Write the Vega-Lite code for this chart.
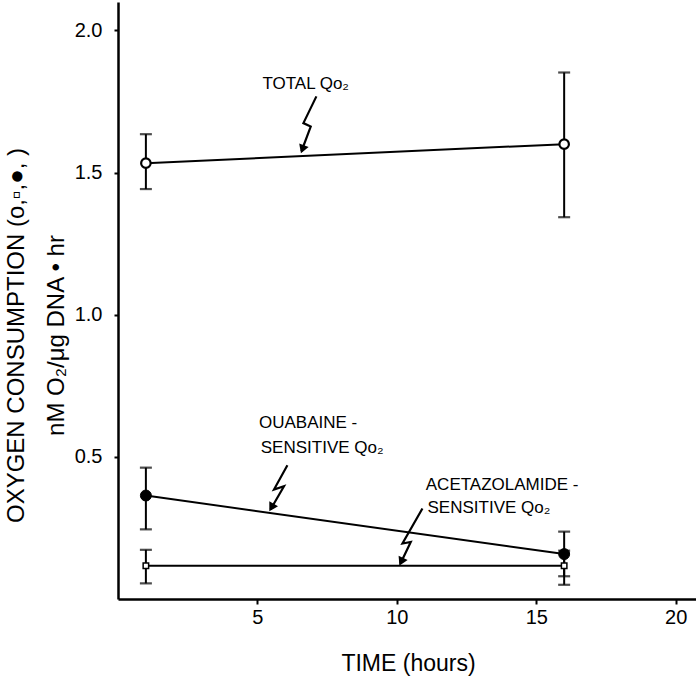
{
  "$schema": "https://vega.github.io/schema/vega-lite/v6.json",
  "width": 580,
  "height": 597,
  "autosize": "none",
  "padding": {"left": 118, "top": 2, "right": 0, "bottom": 80},
  "background": "white",
  "config": {
    "view": {"stroke": null},
    "axis": {
      "grid": false,
      "domainColor": "black",
      "domainWidth": 2.5,
      "tickColor": "black",
      "tickWidth": 2,
      "tickSize": 5,
      "labelColor": "black",
      "titleColor": "black",
      "labelFont": "Liberation Sans Narrow, Liberation Sans",
      "titleFont": "Liberation Sans Narrow, Liberation Sans",
      "labelFontSize": 20,
      "titleFontWeight": "normal"
    }
  },
  "datasets": {
    "pts": [
      {"series": "Total", "t": 1, "y": 1.533, "lo": 1.442, "hi": 1.635},
      {"series": "Total", "t": 16, "y": 1.6, "lo": 1.343, "hi": 1.852},
      {"series": "Ouabaine", "t": 1, "y": 0.364, "lo": 0.245, "hi": 0.462},
      {"series": "Ouabaine", "t": 16, "y": 0.158, "lo": 0.08, "hi": 0.237},
      {"series": "Acetazolamide", "t": 1, "y": 0.117, "lo": 0.055, "hi": 0.173},
      {"series": "Acetazolamide", "t": 16, "y": 0.117, "lo": 0.05, "hi": 0.17}
    ],
    "bolts": [
      {"bolt": "Total", "o": 1, "x": 7.115, "y": 1.768},
      {"bolt": "Total", "o": 2, "x": 6.649, "y": 1.674},
      {"bolt": "Total", "o": 3, "x": 6.911, "y": 1.662},
      {"bolt": "Total", "o": 4, "x": 6.58, "y": 1.575},
      {"bolt": "Ouabaine", "o": 1, "x": 6.075, "y": 0.4708},
      {"bolt": "Ouabaine", "o": 2, "x": 5.594, "y": 0.3852},
      {"bolt": "Ouabaine", "o": 3, "x": 5.953, "y": 0.3968},
      {"bolt": "Ouabaine", "o": 4, "x": 5.47, "y": 0.315},
      {"bolt": "Acetazolamide", "o": 1, "x": 10.918, "y": 0.3183},
      {"bolt": "Acetazolamide", "o": 2, "x": 10.201, "y": 0.1951},
      {"bolt": "Acetazolamide", "o": 3, "x": 10.499, "y": 0.2007},
      {"bolt": "Acetazolamide", "o": 4, "x": 10.13, "y": 0.125}
    ],
    "heads": [
      {"bolt": "Total", "x": 6.614, "y": 1.582, "ang": 200},
      {"bolt": "Ouabaine", "x": 5.505, "y": 0.3215, "ang": 210},
      {"bolt": "Acetazolamide", "x": 10.157, "y": 0.131, "ang": 206}
    ],
    "labels": [
      {"x": 5.178, "y": 1.794, "text": "TOTAL  Qo₂"},
      {"x": 5.056, "y": 0.6, "text": "OUABAINE -"},
      {"x": 5.12, "y": 0.512, "text": "SENSITIVE Qo₂"},
      {"x": 11.037, "y": 0.383, "text": "ACETAZOLAMIDE -"},
      {"x": 11.1, "y": 0.303, "text": "SENSITIVE Qo₂"}
    ]
  },
  "layer": [
    {
      "data": {"name": "pts"},
      "mark": {"type": "rule", "color": "black", "strokeWidth": 2},
      "encoding": {
        "x": {
          "field": "t", "type": "quantitative",
          "scale": {"domain": [0, 20.8], "nice": false, "zero": false},
          "axis": {
            "values": [5, 10, 15, 20],
            "title": "TIME (hours)",
            "titleFontSize": 23,
            "titleBaseline": "alphabetic",
            "titleY": 71,
            "labelPadding": 3
          }
        },
        "y": {
          "field": "lo", "type": "quantitative",
          "scale": {"domain": [0, 2.1], "nice": false, "zero": false},
          "axis": {
            "values": [0.5, 1, 1.5, 2],
            "format": ".1f",
            "title": ["OXYGEN  CONSUMPTION (o,▫,●, )", "nM O₂/μg  DNA • hr"],
            "titleFontSize": 24,
            "titleLineHeight": 40,
            "titleAngle": -90,
            "titleAlign": "center",
            "titleBaseline": "middle",
            "titleX": -102,
            "titleY": 333,
            "tickSize": 4,
            "labelPadding": 12
          }
        },
        "y2": {"field": "hi"}
      }
    },
    {
      "data": {"name": "pts"},
      "mark": {"type": "tick", "orient": "horizontal", "color": "black", "thickness": 2.2, "size": 12},
      "encoding": {
        "x": {"field": "t", "type": "quantitative"},
        "y": {"field": "lo", "type": "quantitative"}
      }
    },
    {
      "data": {"name": "pts"},
      "mark": {"type": "tick", "orient": "horizontal", "color": "black", "thickness": 2.2, "size": 12},
      "encoding": {
        "x": {"field": "t", "type": "quantitative"},
        "y": {"field": "hi", "type": "quantitative"}
      }
    },
    {
      "data": {"name": "pts"},
      "mark": {"type": "line", "color": "black", "strokeWidth": 2},
      "encoding": {
        "x": {"field": "t", "type": "quantitative"},
        "y": {"field": "y", "type": "quantitative"},
        "detail": {"field": "series"}
      }
    },
    {
      "data": {"name": "pts"},
      "transform": [{"filter": "datum.series === 'Total'"}],
      "mark": {"type": "point", "shape": "circle", "stroke": "black", "fill": "white", "strokeWidth": 2.2, "size": 90, "opacity": 1},
      "encoding": {
        "x": {"field": "t", "type": "quantitative"},
        "y": {"field": "y", "type": "quantitative"}
      }
    },
    {
      "data": {"name": "pts"},
      "transform": [{"filter": "datum.series === 'Ouabaine'"}],
      "mark": {"type": "point", "shape": "circle", "stroke": "black", "fill": "black", "strokeWidth": 1, "size": 120, "opacity": 1},
      "encoding": {
        "x": {"field": "t", "type": "quantitative"},
        "y": {"field": "y", "type": "quantitative"}
      }
    },
    {
      "data": {"name": "pts"},
      "transform": [{"filter": "datum.series === 'Acetazolamide'"}],
      "mark": {"type": "point", "shape": "square", "stroke": "black", "fill": "white", "strokeWidth": 1.5, "size": 30, "opacity": 1},
      "encoding": {
        "x": {"field": "t", "type": "quantitative"},
        "y": {"field": "y", "type": "quantitative"}
      }
    },
    {
      "data": {"name": "bolts"},
      "mark": {"type": "line", "color": "black", "strokeWidth": 2.2},
      "encoding": {
        "x": {"field": "x", "type": "quantitative"},
        "y": {"field": "y", "type": "quantitative"},
        "detail": {"field": "bolt"},
        "order": {"field": "o"}
      }
    },
    {
      "data": {"name": "heads"},
      "mark": {"type": "point", "shape": "triangle-up", "filled": true, "color": "black", "size": 100, "opacity": 1},
      "encoding": {
        "x": {"field": "x", "type": "quantitative"},
        "y": {"field": "y", "type": "quantitative"},
        "angle": {"field": "ang", "type": "quantitative", "scale": null}
      }
    },
    {
      "data": {"name": "labels"},
      "mark": {"type": "text", "align": "left", "baseline": "alphabetic", "font": "Liberation Sans", "fontSize": 17, "color": "black"},
      "encoding": {
        "x": {"field": "x", "type": "quantitative"},
        "y": {"field": "y", "type": "quantitative"},
        "text": {"field": "text"}
      }
    }
  ]
}
